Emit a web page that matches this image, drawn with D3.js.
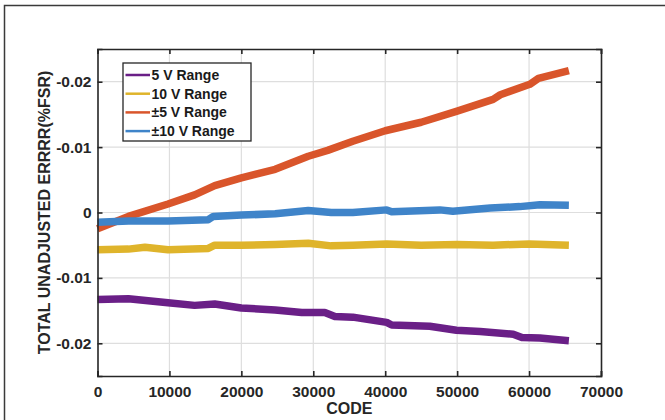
<!DOCTYPE html>
<html>
<head>
<meta charset="utf-8">
<script src="https://cdn.jsdelivr.net/npm/d3@7"></script>
<style>
  html, body { margin: 0; padding: 0; background: #fff; }
  svg { display: block; font-family: "Liberation Sans", Arial, sans-serif; font-weight: bold; }
</style>
</head>
<body>
<svg id="chart" width="665" height="420"></svg>
<script>
// Total unadjusted error vs. code for each input range
const range5V = [
  [0, -0.0133], [4300, -0.0132], [9800, -0.0138], [13500, -0.0142], [16300, -0.0140],
  [20000, -0.0146], [24700, -0.0149], [28400, -0.0153], [31600, -0.0153], [33000, -0.0159],
  [35500, -0.0160], [40200, -0.0168], [40900, -0.0172], [46200, -0.0174], [49900, -0.0180],
  [53200, -0.0182], [57800, -0.0186], [59000, -0.0191], [61500, -0.0192], [65535, -0.0196]
];
const range10V = [
  [0, -0.0057], [4300, -0.0056], [6600, -0.0053], [9800, -0.0057], [15400, -0.0055],
  [16300, -0.0050], [20000, -0.0050], [24700, -0.0049], [29300, -0.0047], [32500, -0.0051],
  [35500, -0.0050], [40200, -0.0048], [45000, -0.0050], [50000, -0.0049], [55000, -0.0050],
  [60000, -0.0048], [65535, -0.0050]
];
const rangePM5V = [
  [0, -0.0025], [4300, -0.0006], [9800, 0.0013], [13500, 0.0027], [16300, 0.0041],
  [20000, 0.0053], [24700, 0.0066], [29300, 0.0086], [32000, 0.0095], [35500, 0.0109],
  [40000, 0.0125], [45000, 0.0138], [50000, 0.0155], [55000, 0.0173], [56000, 0.0180],
  [60100, 0.0196], [61300, 0.0205], [65535, 0.0217]
];
const rangePM10V = [
  [0, -0.0015], [4300, -0.0013], [9800, -0.0013], [15400, -0.0011], [16100, -0.0006],
  [20000, -0.0004], [24700, -0.0002], [29300, 0.0003], [32500, 0.0000], [35500, 0.0000],
  [40200, 0.0004], [40900, 0.0001], [47600, 0.0004], [49400, 0.0002], [54600, 0.0007],
  [58700, 0.0009], [61500, 0.0012], [65535, 0.0011]
];

const seriesNames = ["5 V Range", "10 V Range", "\u00B15 V Range", "\u00B110 V Range"];
const seriesColors = ["#6a1f87", "#dfb42b", "#d9552b", "#3f84c9"];
const seriesData = [range5V, range10V, rangePM5V, rangePM10V];

const xTicks = [0, 10000, 20000, 30000, 40000, 50000, 60000, 70000];
const yTicks = [0.02, 0.01, 0, -0.01, -0.02];
const yTickLabels = ["-0.02", "-0.01", "0", "-0.01", "-0.02"];

const svg = d3.select("#chart");

// outer figure frame
svg.append("rect")
  .attr("x", 4.5).attr("y", 5.5).attr("width", 720).attr("height", 500)
  .attr("fill", "none").attr("stroke", "#3a3a3a").attr("stroke-width", 1.5);

const plot = { left: 97.5, right: 601, top: 49, bottom: 376 };

const x = d3.scaleLinear().domain([0, 70000]).range([plot.left, plot.right]);
const y = d3.scaleLinear().domain([-0.025, 0.025]).range([plot.bottom, plot.top]);

// grid
const grid = svg.append("g").attr("stroke", "#dedede").attr("stroke-width", 1.2);
grid.selectAll(".gx").data(xTicks.slice(1, -1)).join("line")
  .attr("x1", d => x(d)).attr("x2", d => x(d))
  .attr("y1", plot.top).attr("y2", plot.bottom);
grid.selectAll(".gy").data(yTicks).join("line")
  .attr("x1", plot.left).attr("x2", plot.right)
  .attr("y1", d => y(d)).attr("y2", d => y(d));

// series lines
const line = d3.line().x(d => x(d[0])).y(d => y(d[1])).curve(d3.curveLinear);
svg.append("g").selectAll("path").data([0, 1, 2, 3]).join("path")
  .attr("d", i => line(seriesData[i]))
  .attr("fill", "none")
  .attr("stroke", i => seriesColors[i])
  .attr("stroke-width", 7.5)
  .attr("stroke-linejoin", "round")
  .attr("stroke-linecap", "butt");

// axes with inward ticks on all four sides
const tickLen = 5;
const fmtY = d => yTickLabels[yTicks.indexOf(d)];
const axB = svg.append("g").attr("transform", `translate(0,${plot.bottom})`)
  .call(d3.axisBottom(x).tickValues(xTicks).tickSize(-tickLen).tickPadding(10).tickFormat(d3.format("d")));
const axT = svg.append("g").attr("transform", `translate(0,${plot.top})`)
  .call(d3.axisTop(x).tickValues(xTicks).tickSize(-tickLen).tickFormat(""));
const axL = svg.append("g").attr("transform", `translate(${plot.left},0)`)
  .call(d3.axisLeft(y).tickValues(yTicks).tickSize(-tickLen).tickPadding(6).tickFormat(fmtY));
const axR = svg.append("g").attr("transform", `translate(${plot.right},0)`)
  .call(d3.axisRight(y).tickValues(yTicks).tickSize(-tickLen).tickFormat(""));

[axB, axT, axL, axR].forEach(a => {
  a.select(".domain").attr("stroke", "#262626").attr("stroke-width", 1.6);
  a.selectAll(".tick line").attr("stroke", "#262626").attr("stroke-width", 1.6);
  a.selectAll("text").attr("fill", "#262626")
    .style("font-family", "'Liberation Sans', Arial, sans-serif")
    .style("font-weight", "bold").style("font-size", "15.5px");
});

// axis titles
svg.append("text")
  .attr("x", (plot.left + plot.right) / 2).attr("y", 414)
  .attr("text-anchor", "middle").attr("fill", "#262626")
  .style("font-size", "16px").text("CODE");
svg.append("text")
  .attr("transform", `translate(50,${(plot.top + plot.bottom) / 2}) rotate(-90)`)
  .attr("text-anchor", "middle").attr("fill", "#262626")
  .style("font-size", "16px").text("TOTAL UNADJUSTED ERRRR(%FSR)");

// legend
const lg = svg.append("g");
lg.append("rect")
  .attr("x", 123).attr("y", 63).attr("width", 128).attr("height", 78)
  .attr("fill", "#fff").attr("stroke", "#262626").attr("stroke-width", 1.3);
const rows = lg.selectAll(".row").data([0, 1, 2, 3]).join("g")
  .attr("transform", i => `translate(0,${75 + i * 18.7})`);
rows.append("line")
  .attr("x1", 125.5).attr("x2", 150).attr("y1", 0).attr("y2", 0)
  .attr("stroke", i => seriesColors[i]).attr("stroke-width", 2.5);
rows.append("text")
  .attr("x", 151.5).attr("y", 5).attr("fill", "#1a1a1a")
  .style("font-size", "14px").text(i => seriesNames[i]);
</script>
</body>
</html>
